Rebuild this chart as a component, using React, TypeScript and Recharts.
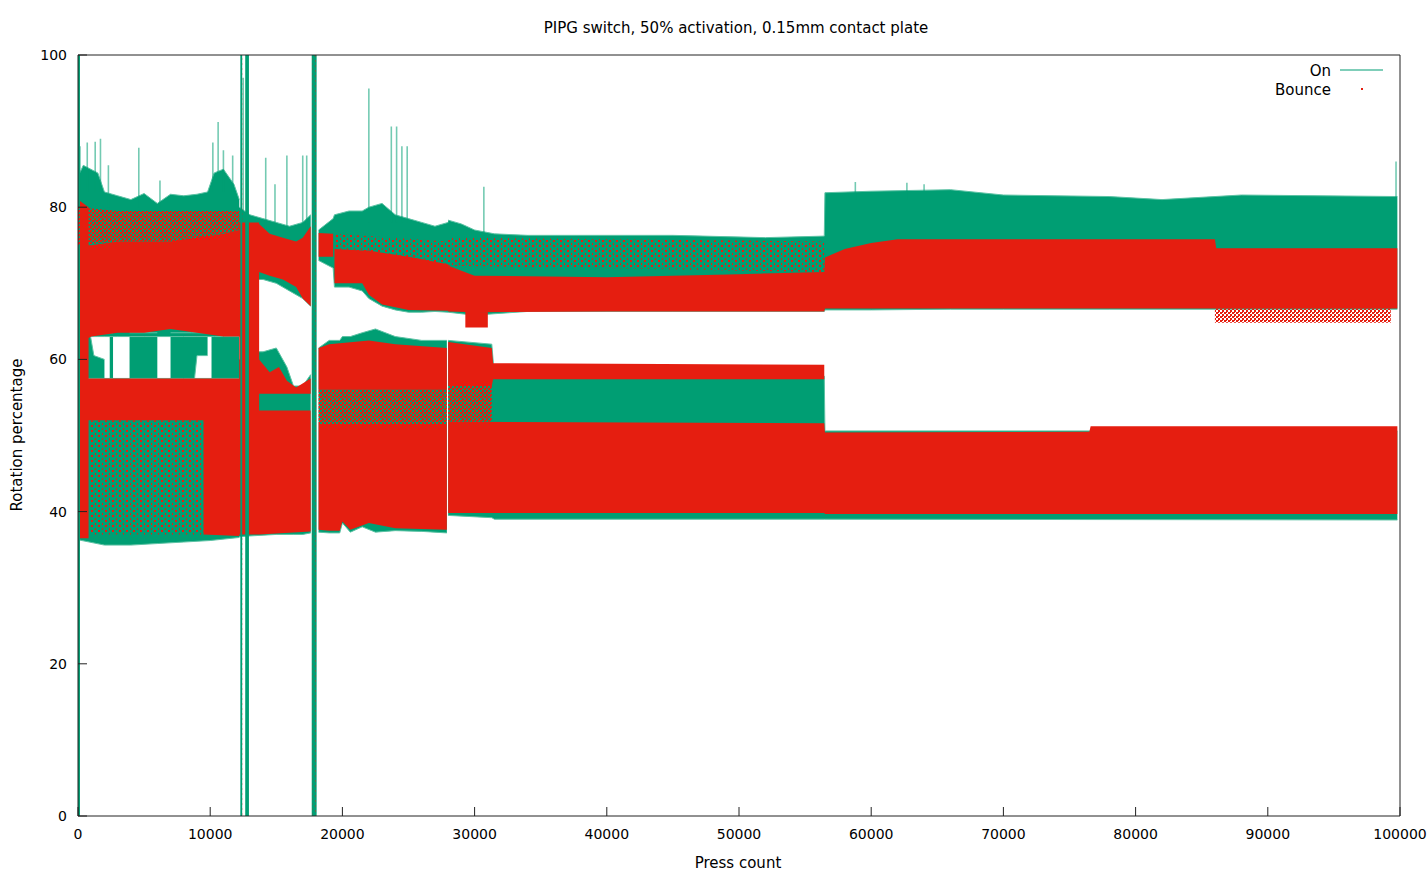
import { ComposedChart, Area, XAxis, YAxis } from "recharts";

// every band point is [press count, low %, high %]
type Pt = [number, number, number];

const FONT = "DejaVu Sans";
const GREEN = "#009e73";
const GREEN_EDGE = "#5cc2a4";
const RED = "#e51e10";

const title = "PIPG switch, 50% activation, 0.15mm contact plate";
const xLabel = "Press count";
const yLabel = "Rotation percentage";
const seriesNames = ["On", "Bounce"];

const xTicks = [0, 10000, 20000, 30000, 40000, 50000, 60000, 70000, 80000, 90000, 100000];
const yTicks = [0, 20, 40, 60, 80, 100];

// "On" envelope, drawn first
const onBands: Pt[][] = [
  [[0, 63, 84], [400, 63, 85.5], [1500, 63, 84.5], [2000, 63, 82], [3000, 63, 81.5], [4000, 63, 81], [5000, 63, 81.8], [6000, 63, 80.5], [7000, 63, 81.7], [8000, 63, 81.5], [9000, 63, 81.7], [9800, 63, 82], [10300, 63, 84.5], [11000, 63, 85], [11800, 63, 83], [12200, 63, 81]],
  [[0, 36.3, 57.5], [2000, 35.6, 57.5], [4000, 35.6, 57.5], [6000, 35.8, 57.5], [8000, 36, 57.5], [10000, 36.2, 57.5], [12200, 36.6, 57.5]],
  [[0, 57, 63.5], [900, 57, 63.5], [1200, 57, 60.5], [2000, 57, 60]],
  [[2400, 57, 63.5], [2650, 57, 63.5]],
  [[3900, 57, 63.5], [6000, 57, 63.5]],
  [[7000, 54, 63.5], [8600, 54, 63.5], [9000, 60.5, 63.5], [9800, 60.5, 63.5]],
  [[10100, 57, 63.5], [12200, 57, 63.5]],
  [[12200, 70, 80], [13000, 70.5, 79], [14000, 70.5, 78.5], [15000, 70, 78], [16000, 69, 77.5], [17000, 68, 78], [17600, 67, 79]],
  [[12200, 36.7, 60], [13000, 36.8, 61], [14000, 36.9, 61], [15000, 37, 61.5], [15800, 37, 59], [16300, 37, 56.5], [17000, 37, 56.5], [17600, 37.2, 58]],
  [[18200, 73, 77], [19300, 72, 78.5], [19400, 69.5, 79], [20500, 69.5, 79.5], [21500, 69, 79.5], [22000, 68, 80], [23000, 67, 80.5], [24000, 66.5, 79], [25000, 66.2, 78.5], [26000, 66.2, 78], [27000, 66.3, 77.5], [28000, 66.2, 78]],
  [[18200, 37.3, 61.5], [19000, 37.2, 62.5], [19800, 37.2, 62.5], [20000, 38.5, 63], [20600, 37.3, 63], [21500, 38, 63.5], [22500, 37.3, 64], [24000, 37.5, 63], [26000, 37.4, 62.5], [27900, 37.2, 62.5]],
  [[28000, 66.2, 78.3], [29000, 66, 77.8], [30000, 65.8, 77], [31500, 66, 76.5], [34000, 66.3, 76.3], [45000, 66.3, 76.3], [52000, 66.3, 76], [56450, 66.3, 76.2], [56500, 66.5, 81.9], [60000, 66.5, 82.1], [66000, 66.6, 82.3], [70000, 66.6, 81.6], [78000, 66.6, 81.4], [82000, 66.6, 81], [88000, 66.6, 81.6], [99800, 66.6, 81.4]],
  [[28000, 39.5, 62.5], [31300, 39.2, 62], [31500, 39, 57.8], [56450, 39, 57.8], [56500, 39, 50.6], [99800, 38.9, 50.6]],
];

// single spikes of "On": [press count, from, to]
const onSpikes: Pt[] = [
  [150, 82, 88], [700, 82, 88.5], [1300, 82, 88.6], [1700, 82, 89], [2300, 80, 85.5], [4600, 80, 87.8], [6200, 80, 83.5],
  [10200, 82, 88.5], [10600, 82, 91.2], [11000, 82, 87.5], [11700, 82, 86.8], [12500, 78, 97],
  [14200, 77, 86.5], [14900, 77, 83], [15800, 77, 86.8], [17000, 77, 86.8], [17300, 77, 86.8],
  [22000, 78, 95.6], [23700, 78, 90.6], [24100, 78, 90.6], [24500, 78, 88], [24900, 78, 88],
  [30700, 76, 82.7], [58800, 81, 83.3], [62700, 81, 83.2], [64000, 81, 83], [99700, 80, 86],
];

// full-range "On" columns, drawn over the bounce data
const onColumns: Pt[][] = [
  [[0, 0, 100], [150, 0, 100]],
  [[12280, 0, 100], [12420, 0, 100]],
  [[12650, 0, 100], [12930, 0, 100]],
  [[17680, 0, 100], [18050, 0, 100]],
];

// "Bounce" dense bands
const bounceBands: Pt[][] = [
  [[0, 62, 75], [1000, 63, 75], [3000, 63.5, 75.5], [5000, 63.5, 75.5], [7000, 64, 75.5], [9000, 63.5, 76], [11000, 63, 76.5], [12200, 63, 77]],
  [[0, 52, 57.5], [12200, 52, 57.5]],
  [[0, 36.5, 81], [800, 36.5, 80]],
  [[9500, 37, 52], [12200, 36.8, 53]],
  [[12200, 37, 78], [13700, 37, 78]],
  [[13700, 71.5, 77.8], [14500, 71, 76.5], [15500, 70.5, 76], [16500, 69.5, 75.5], [17000, 68, 76], [17600, 67, 77.5]],
  [[13700, 37, 53.3], [17600, 37.4, 53.3]],
  [[13700, 55.5, 60], [14500, 55.5, 58.3], [15200, 55.5, 59], [15800, 55.5, 57.2], [16500, 55.5, 56.3], [17600, 55.5, 57.5]],
  [[18200, 73.5, 76.6], [19300, 73.5, 76.5]],
  [[19400, 70, 74.5], [21500, 70, 74.3], [22000, 68.5, 74.3], [23000, 67.2, 74], [25000, 66.5, 73.5], [28000, 66.4, 72.5]],
  [[18200, 37.6, 51.5], [19000, 37.5, 51.5], [19800, 37.5, 51.5], [20000, 38.7, 51.5], [20600, 37.6, 51.5], [22000, 38.5, 51.5], [24000, 37.8, 51.5], [27900, 37.6, 51.5]],
  [[18200, 56, 61.5], [19000, 56, 62], [22000, 56, 62.5], [24000, 56, 62], [27900, 56, 61.5]],
  [[28000, 66.3, 72.3], [30000, 66.2, 71], [40000, 66.3, 70.8], [50000, 66.3, 71.2], [56450, 66.3, 71.5], [56500, 66.7, 73.4], [58000, 66.7, 74.5], [60000, 66.7, 75.3], [62000, 66.7, 75.8], [86000, 66.7, 75.8], [86100, 66.7, 74.6], [99800, 66.7, 74.6]],
  [[29300, 64.2, 66.5], [31000, 64.2, 66.5]],
  [[28000, 56.5, 62.3], [31300, 56.5, 61.5], [31400, 57.4, 59.5], [56450, 57.4, 59.3]],
  [[28000, 39.8, 51.8], [56450, 39.8, 51.6], [56500, 39.7, 50.4], [76500, 39.7, 50.5], [76600, 39.7, 51.2], [99800, 39.7, 51.2]],
];

// "Bounce" where points are mixed with "On" (about half of the pixels)
const bounceMixed: Pt[][] = [
  [[0, 75, 80], [3000, 75.5, 79.5], [8000, 75.5, 79.5], [12200, 77, 79.5]],
  [[18200, 51.5, 56], [27900, 51.5, 56]],
  [[28000, 51.8, 56.5], [31300, 51.8, 56.5]],
  [[86000, 64.8, 66.7], [99300, 64.8, 66.7]],
];

// sparse "Bounce" points over the "On" envelope
const bounceSparse: Pt[][] = [
  [[900, 37, 52], [9500, 37, 52]],
  [[19400, 74.5, 76.5], [28000, 72.5, 75.5]],
  [[28000, 72.3, 76], [56450, 71.5, 75.5]],
  [[12280, 0, 100], [12420, 0, 100]],
  [[17760, 0, 100], [17960, 0, 100]],
];

const rows: Record<string, number | [number, number]>[] = [];
function addSeries(key: string, segs: Pt[][]) {
  segs.forEach((seg) => {
    seg.forEach(([x, lo, hi]) => rows.push({ x, [key]: [lo, hi] }));
    rows.push({ x: seg[seg.length - 1][0] }); // gap between segments
  });
}
addSeries("on", onBands);
addSeries("spike", onSpikes.map(([x, lo, hi]) => [[x - 60, lo, hi], [x + 60, lo, hi]] as Pt[]));
addSeries("bounce", bounceBands);
addSeries("col", onColumns);
addSeries("mixed", bounceMixed);
addSeries("sparse", bounceSparse);

const tickStyle = { fill: "#000", fontSize: 14, fontFamily: FONT };
const lineStyle = { stroke: "#222" };

export default function App() {
  const areas: [string, string, number, string][] = [
    ["on", GREEN, 1, GREEN_EDGE],
    ["spike", GREEN, 0.55, "none"],
    ["bounce", RED, 1, "none"],
    ["col", GREEN, 1, "none"],
    ["mixed", "url(#speckHeavy)", 1, "none"],
    ["sparse", "url(#speckLight)", 1, "none"],
  ];
  return (
    <div style={{ position: "absolute", left: 0, top: 0, width: 1428, height: 874, background: "#fff", fontFamily: FONT }}>
      <ComposedChart width={1428} height={874} data={rows} margin={{ top: 54, right: 27, bottom: 57, left: 77 }}>
        <defs>
          <pattern id="speckHeavy" width="4" height="4" patternUnits="userSpaceOnUse">
            <rect x="0" y="0" width="2" height="2" fill={RED} />
            <rect x="2" y="2" width="2" height="2" fill={RED} />
            <rect x="2" y="0" width="1" height="1" fill={RED} />
          </pattern>
          <pattern id="speckLight" width="7" height="5" patternUnits="userSpaceOnUse">
            <rect x="0" y="0" width="2" height="2" fill={RED} />
            <rect x="4" y="3" width="1" height="2" fill={RED} />
          </pattern>
        </defs>
        <XAxis dataKey="x" type="number" domain={[0, 100000]} ticks={xTicks} allowDataOverflow
          height={1} tickSize={-9} tickMargin={22} tick={tickStyle} axisLine={lineStyle} tickLine={lineStyle} interval={0} />
        <XAxis xAxisId="top" orientation="top" dataKey="x" type="number" domain={[0, 100000]} ticks={xTicks} allowDataOverflow
          height={1} tickSize={-9} tick={false} axisLine={lineStyle} tickLine={lineStyle} interval={0} />
        <YAxis type="number" domain={[0, 100]} ticks={yTicks} allowDataOverflow
          width={1} tickSize={-9} tickMargin={20} tick={tickStyle} axisLine={lineStyle} tickLine={lineStyle} interval={0} />
        <YAxis yAxisId="right" orientation="right" type="number" domain={[0, 100]} ticks={yTicks} allowDataOverflow
          width={1} tickSize={-9} tick={false} axisLine={lineStyle} tickLine={lineStyle} interval={0} />
        {areas.map(([key, color, op, edge]) => (
          <Area key={key} dataKey={key} type="linear" stroke={edge} strokeWidth={1} fill={color} fillOpacity={op}
            dot={false} activeDot={false} connectNulls={false} isAnimationActive={false} />
        ))}
      </ComposedChart>

      <div style={{ position: "absolute", left: 0, width: 1472, top: 19, textAlign: "center", fontSize: 15 }}>{title}</div>
      <div style={{ position: "absolute", left: 78, width: 1320, top: 854, textAlign: "center", fontSize: 15 }}>{xLabel}</div>
      <div style={{ position: "absolute", left: 17, top: 435, fontSize: 15, whiteSpace: "nowrap",
        transform: "translate(-50%, -50%) rotate(-90deg)" }}>{yLabel}</div>

      <div style={{ position: "absolute", right: 97, top: 62, fontSize: 15, textAlign: "right", lineHeight: "19px" }}>
        {seriesNames.map((n) => <div key={n}>{n}</div>)}
      </div>
      <div style={{ position: "absolute", left: 1340, top: 69, width: 43, height: 2, background: GREEN, opacity: 0.5 }} />
      <div style={{ position: "absolute", left: 1361, top: 88, width: 2, height: 2, background: RED }} />
    </div>
  );
}
